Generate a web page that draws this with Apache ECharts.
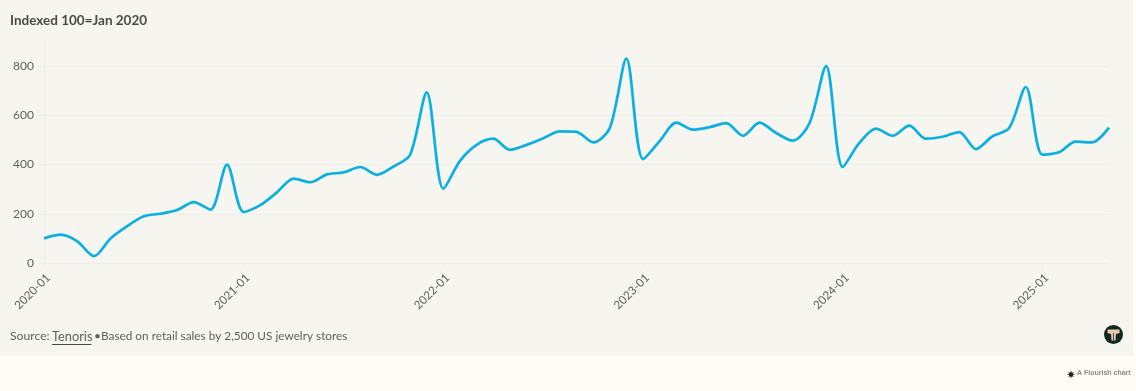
<!DOCTYPE html>
<html>
<head>
<meta charset="utf-8">
<style>
  html, body { margin: 0; padding: 0; background: #fffcf5; }
  #chart { width: 1136px; height: 391px; }
</style>
<script src="https://cdn.jsdelivr.net/npm/echarts@6/dist/echarts.min.js"></script>
</head>
<body>
<div id="chart"></div>
<script>
const years = ['2020', '2021', '2022', '2023', '2024', '2025'];
const lastYearMonths = 5;
const yTicks = [0, 200, 400, 600, 800];
const values = [
  100, 115, 88, 28, 100, 150, 190, 200, 215, 247, 217, 400,
  207, 235, 287, 343, 328, 360, 368, 390, 358, 392, 440, 693,
  302, 415, 480, 505, 460, 480, 507, 535, 533, 490, 548, 830,
  422, 495, 570, 542, 552, 568, 517, 570, 528, 497, 568, 800,
  390, 488, 546, 517, 558, 505, 513, 532, 463, 515, 548, 715,
  440, 450, 493, 490, 550
];

const months = [];
years.forEach(y => {
  const n = y === '2025' ? lastYearMonths : 12;
  for (let m = 1; m <= n; m++) {
    months.push(y + '-' + String(m).padStart(2, '0'));
  }
});

const font = 'Lato, sans-serif';
const gridColor = '#efeee9';
const textColor = '#5f5f5c';
const peach = '#e8c9b8';

const chart = echarts.init(document.getElementById('chart'));
chart.setOption({
  animation: false,
  backgroundColor: '#fffcf5',
  textStyle: { fontFamily: font },
  grid: { left: 44, right: 27, top: 40, bottom: 128 },
  xAxis: {
    type: 'category',
    data: months,
    boundaryGap: false,
    axisLine: { show: false },
    axisTick: { interval: 11, length: 6, lineStyle: { color: gridColor } },
    axisLabel: {
      interval: 11,
      rotate: 45,
      margin: 17,
      fontSize: 11.6,
      color: textColor,
      padding: [0, -6, 0, 0]
    },
    splitLine: { show: false }
  },
  yAxis: {
    type: 'value',
    min: 0,
    max: 906,
    axisLine: { show: true, lineStyle: { color: gridColor } },
    axisTick: { show: true, length: 6, customValues: yTicks, lineStyle: { color: gridColor } },
    axisLabel: { customValues: yTicks, margin: 10, fontSize: 12, color: textColor },
    splitLine: { show: true, lineStyle: { color: gridColor } }
  },
  series: [{
    type: 'line',
    data: values,
    smooth: 0.3,
    showSymbol: false,
    clip: false,
    lineStyle: { color: '#0bb0e2', width: 2.7 }
  }],
  graphic: [
    { type: 'rect', z: -10, silent: true, shape: { x: 0, y: 0, width: 1133, height: 356 }, style: { fill: '#f6f5ef' } },
    { type: 'text', left: 10, top: 14, style: { text: 'Indexed 100=Jan 2020', font: 'bold 13.5px ' + font, fill: '#4a4a48' } },
    { type: 'text', left: 10, top: 330, style: { text: 'Source:', font: '12.2px ' + font, fill: textColor } },
    { type: 'text', left: 52, top: 330, style: { text: 'Tenoris', font: '12.8px ' + font, fill: textColor } },
    { type: 'line', shape: { x1: 52, y1: 344.5, x2: 91.5, y2: 344.5 }, style: { stroke: '#4a4a48', lineWidth: 1 } },
    { type: 'text', left: 94, top: 330, style: { text: '•', font: '12px ' + font, fill: textColor } },
    { type: 'text', left: 101, top: 330, style: { text: 'Based on retail sales by 2,500 US jewelry stores', font: '11.8px ' + font, fill: textColor } },
    // logo
    { type: 'circle', shape: { cx: 1113.5, cy: 334.5, r: 9.5 }, style: { fill: '#12281f' } },
    { type: 'polygon', shape: { points: [[1107.5, 329.5], [1119.5, 329.5], [1119.5, 333], [1116, 334], [1115.5, 340.5], [1111.5, 340.5], [1111, 334], [1107.5, 333]] }, style: { fill: peach } },
    { type: 'line', shape: { x1: 1113.5, y1: 333, x2: 1113.5, y2: 340.5 }, style: { stroke: '#12281f', lineWidth: 0.8 } },
    // flourish credit
    { type: 'circle', shape: { cx: 1071, cy: 374.5, r: 2.2 }, style: { fill: '#222' } },
    { type: 'line', shape: { x1: 1071, y1: 371, x2: 1071, y2: 378 }, style: { stroke: '#222', lineWidth: 0.8 } },
    { type: 'line', shape: { x1: 1067.5, y1: 374.5, x2: 1074.5, y2: 374.5 }, style: { stroke: '#222', lineWidth: 0.8 } },
    { type: 'line', shape: { x1: 1068.5, y1: 372, x2: 1073.5, y2: 377 }, style: { stroke: '#222', lineWidth: 0.8 } },
    { type: 'line', shape: { x1: 1068.5, y1: 377, x2: 1073.5, y2: 372 }, style: { stroke: '#222', lineWidth: 0.8 } },
    { type: 'text', left: 1077, top: 370, style: { text: 'A Flourish chart', font: 'bold 7px "Liberation Sans", sans-serif', fill: '#8a8a88' } }
  ]
});
</script>
</body>
</html>
